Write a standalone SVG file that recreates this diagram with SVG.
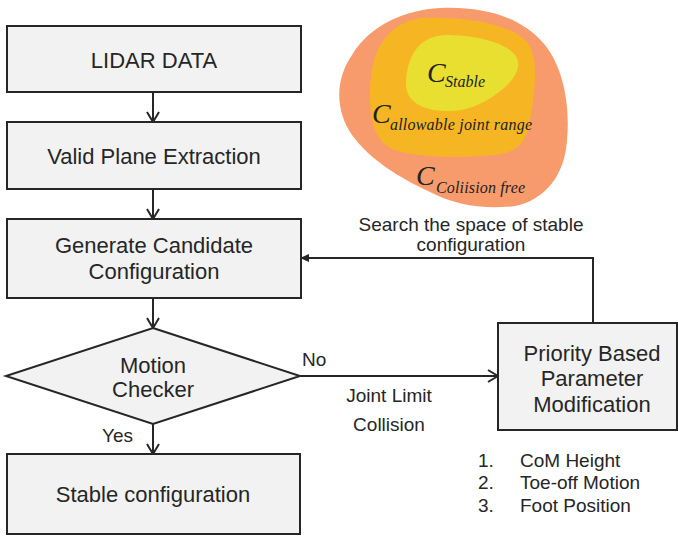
<svg xmlns="http://www.w3.org/2000/svg" width="678" height="538" viewBox="0 0 678 538">
  <style>
    .box { fill: #f2f2f2; stroke: #262626; stroke-width: 2; }
    .lbl { font-family: "Liberation Sans", Arial, sans-serif; font-size: 22px; fill: #262626; text-anchor: middle; }
    .sm { font-family: "Liberation Sans", Arial, sans-serif; font-size: 19px; fill: #262626; }
    .mid { text-anchor: middle; }
    .conn { fill: none; stroke: #262626; stroke-width: 2; }
    .cbig { font-family: "Liberation Serif", "Times New Roman", serif; font-style: italic; font-size: 28px; fill: #222; }
    .csub { font-family: "Liberation Serif", "Times New Roman", serif; font-style: italic; font-size: 16px; fill: #222; }
  </style>
  <defs>
    <marker id="open" viewBox="0 0 12 14" refX="11" refY="7" markerWidth="12" markerHeight="14" markerUnits="userSpaceOnUse" orient="auto">
      <path d="M1 1 L11 7 L1 13" fill="none" stroke="#262626" stroke-width="2"/>
    </marker>
    <marker id="solid" viewBox="0 0 9 8" refX="8" refY="4" markerWidth="9" markerHeight="8" markerUnits="userSpaceOnUse" orient="auto">
      <path d="M0 0 L9 4 L0 8 Z" fill="#262626"/>
    </marker>
  </defs>

  <rect width="678" height="538" fill="#ffffff"/>

  <!-- configuration space sets -->
  <g id="config-space">
    <path fill="#f89b6c" d="M440 8 C480 6 520 15 545 45 C565 70 570 110 567 140 C565 175 545 200 515 206 C485 210 455 205 430 192 C400 178 370 160 352 135 C335 110 335 80 352 55 C370 25 405 10 440 8 Z"/>
    <path fill="#f6b624" d="M420 18 C460 16 505 22 525 40 C540 55 535 90 530 120 C527 140 520 152 495 155 C460 158 420 158 395 150 C375 143 370 120 370 95 C370 60 380 25 420 18 Z"/>
    <path fill="#e8df30" d="M445 35 C475 35 505 42 515 55 C525 68 510 85 495 95 C480 105 465 112 445 111 C420 110 405 100 406 82 C407 55 420 36 445 35 Z"/>
    <text class="cbig" x="427" y="82">C</text>
    <text class="csub" x="445" y="87">Stable</text>
    <text class="cbig" x="372" y="123">C</text>
    <text class="csub" x="390" y="130" textLength="142">allowable joint range</text>
    <text class="cbig" x="416" y="185">C</text>
    <text class="csub" x="436" y="193" textLength="89">Coliision free</text>
  </g>

  <g id="lidar">
    <rect class="box" x="7" y="26" width="294" height="66"/>
    <text class="lbl" x="154" y="68">LIDAR DATA</text>
  </g>
  <g id="plane">
    <rect class="box" x="7" y="122" width="294" height="67"/>
    <text class="lbl" x="154" y="164">Valid Plane Extraction</text>
  </g>
  <g id="candidate">
    <rect class="box" x="7" y="219" width="294" height="79"/>
    <text class="lbl" x="154" y="253">Generate Candidate</text>
    <text class="lbl" x="154" y="279">Configuration</text>
  </g>
  <g id="checker">
    <path class="box" d="M153 328 L300 376 L153 424 L6 376 Z"/>
    <text class="lbl" x="153" y="373">Motion</text>
    <text class="lbl" x="153" y="397">Checker</text>
  </g>
  <g id="stable">
    <rect class="box" x="7" y="454" width="293" height="80"/>
    <text class="lbl" x="153" y="502">Stable configuration</text>
  </g>
  <g id="priority">
    <rect class="box" x="498" y="323" width="179" height="107"/>
    <text class="lbl" x="592" y="361">Priority Based</text>
    <text class="lbl" x="592" y="386">Parameter</text>
    <text class="lbl" x="592" y="412">Modification</text>
  </g>

  <g id="connectors">
    <path class="conn" d="M153 92 V122" marker-end="url(#open)"/>
    <path class="conn" d="M153 189 V219" marker-end="url(#open)"/>
    <path class="conn" d="M153 298 V328" marker-end="url(#open)"/>
    <path class="conn" d="M153 424 V454" marker-end="url(#open)"/>
    <path class="conn" d="M300 376 H498" marker-end="url(#open)"/>
    <path class="conn" d="M593 323 V258 H301" marker-end="url(#solid)"/>
    <text class="sm" x="302" y="366">No</text>
    <text class="sm mid" x="389" y="402">Joint Limit</text>
    <text class="sm mid" x="389" y="431">Collision</text>
    <text class="sm" x="102" y="442">Yes</text>
    <text class="sm mid" x="471" y="231">Search the space of stable</text>
    <text class="sm mid" x="471" y="251">configuration</text>
  </g>

  <g id="priority-list">
    <text class="sm" x="478" y="467">1.</text>
    <text class="sm" x="520" y="467">CoM Height</text>
    <text class="sm" x="478" y="489">2.</text>
    <text class="sm" x="520" y="489">Toe-off Motion</text>
    <text class="sm" x="478" y="512">3.</text>
    <text class="sm" x="520" y="512">Foot Position</text>
  </g>
</svg>
